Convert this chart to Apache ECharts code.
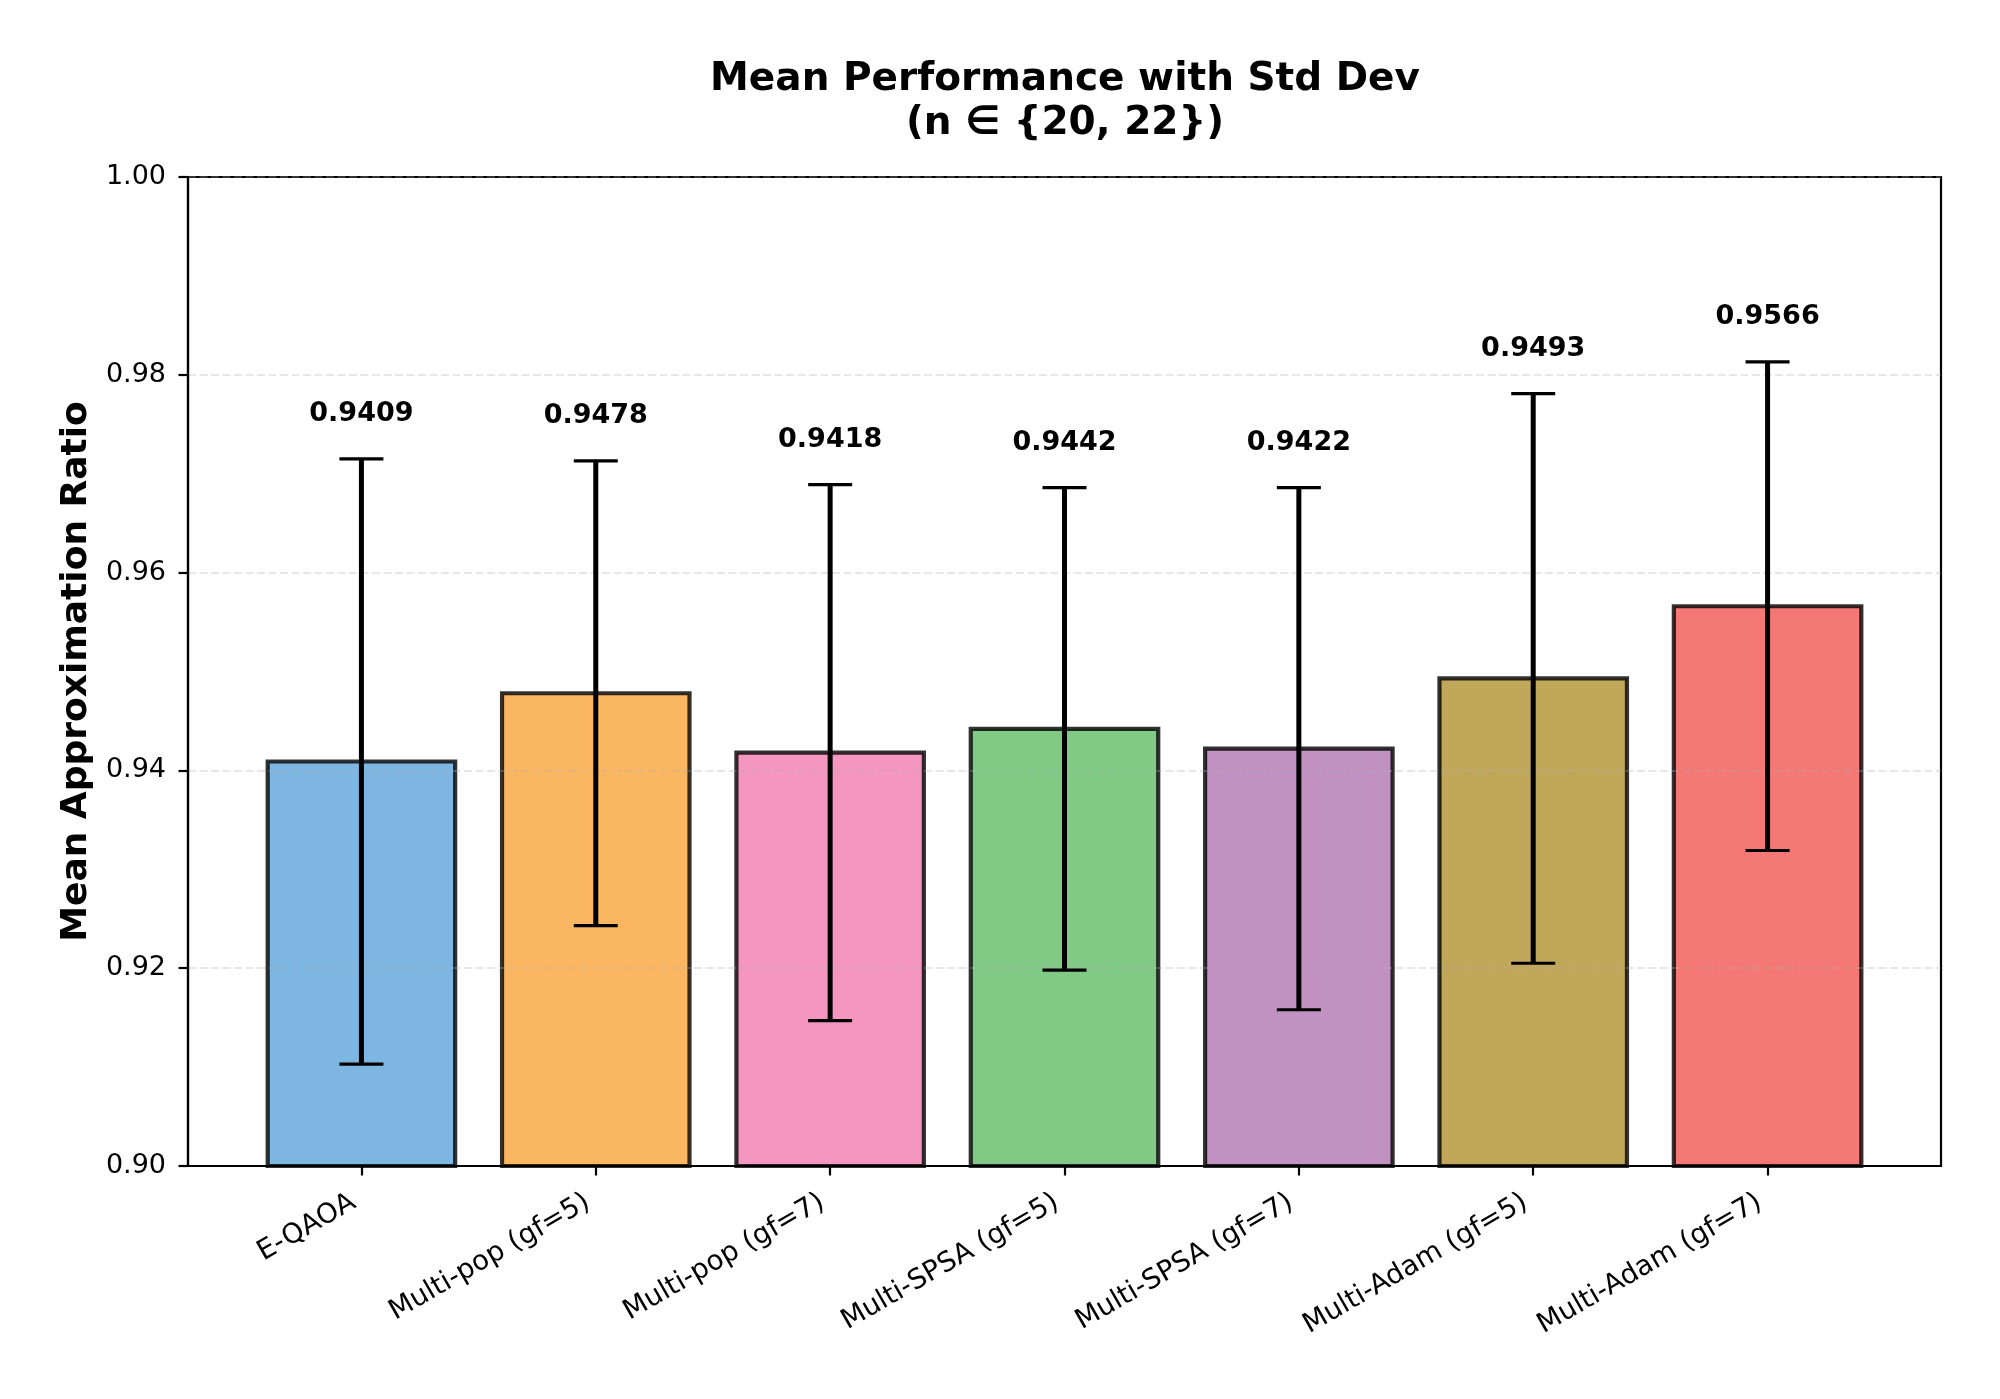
<!DOCTYPE html>
<html><head><meta charset="utf-8">
<script src="https://cdn.jsdelivr.net/npm/echarts@6/dist/echarts.min.js"></script>
<style>html,body{margin:0;padding:0;background:#fff}#c{width:2000px;height:1399px}</style>
</head><body><div id="c"></div>
<script>
// ---- data ----
const categories = ['E-QAOA', 'Multi-pop (gf=5)', 'Multi-pop (gf=7)', 'Multi-SPSA (gf=5)', 'Multi-SPSA (gf=7)', 'Multi-Adam (gf=5)', 'Multi-Adam (gf=7)'];
const means = [0.9409, 0.9478, 0.9418, 0.9442, 0.9422, 0.9493, 0.9566];
const stds = [0.0306, 0.0235, 0.0271, 0.0244, 0.0264, 0.0288, 0.0247];
const yTickLabels = ['0.90', '0.92', '0.94', '0.96', '0.98', '1.00'];
const barColors = ['rgba(93,165,218,0.8)', 'rgba(250,164,58,0.8)', 'rgba(241,124,176,0.8)', 'rgba(96,189,104,0.8)', 'rgba(178,118,178,0.8)', 'rgba(178,145,47,0.8)', 'rgba(241,88,84,0.8)'];

const FONT = 'DejaVu Sans';
const BAR_W = 0.8;
const LABEL_PAD = 0.0045;
const CAP = 22;

const idx = categories.map((_, i) => i);
const barData = categories.map((c, i) => [i, means[i], stds[i]]);

const chart = echarts.init(document.getElementById('c'), null, {renderer: 'canvas'});
chart.setOption({
  backgroundColor: '#fff',
  animation: false,
  title: {
    text: 'Mean Performance with Std Dev\n(n \u2208 {20, 22})',
    left: 1060, top: 53, textAlign: 'center',
    textStyle: {fontFamily: FONT, fontSize: 39, fontWeight: 'bold', color: '#000', lineHeight: 44}
  },
  grid: {left: 188, right: 59, top: 177, bottom: 233, show: true, borderColor: '#000', borderWidth: 2.2, backgroundColor: 'transparent'},
  xAxis: {
    type: 'value', min: -0.74, max: 6.74, z: 3,
    axisLine: {show: true, onZero: false, lineStyle: {color: '#000', width: 2.2}},
    axisTick: {show: true, customValues: idx, length: 9.5, lineStyle: {color: '#000', width: 2.2}},
    axisLabel: {show: true, customValues: idx, rotate: 30, margin: 30,
      formatter: v => '{a|' + (categories[Math.round(v)] || '') + '}',
      rich: {a: {fontFamily: FONT, fontSize: 27.5, color: '#000', padding: [0, 9, 0, 0]}},
      fontFamily: FONT, fontSize: 27.5, color: '#000'},
    splitLine: {show: false}
  },
  yAxis: {
    type: 'value', min: 0.9, max: 1.0, interval: 0.02, z: 3,
    name: 'Mean Approximation Ratio', nameLocation: 'middle', nameGap: 93,
    nameTextStyle: {fontFamily: FONT, fontSize: 36, fontWeight: 'bold', color: '#000'},
    axisLine: {show: true, onZero: false, lineStyle: {color: '#000', width: 2.2}},
    axisTick: {show: true, length: 9.5, lineStyle: {color: '#000', width: 2.2}},
    axisLabel: {margin: 22, fontFamily: FONT, fontSize: 27, color: '#000',
      formatter: v => yTickLabels[Math.round((v - 0.9) / 0.02)]},
    splitLine: {show: true, lineStyle: {color: 'rgba(176,176,176,0.3)', width: 2.2, type: [8, 3.5]}}
  },
  series: [
    {
      type: 'custom', z: 2, clip: false,
      encode: {x: 0, y: 1},
      data: barData,
      renderItem: function (params, api) {
        const i = api.value(0), m = api.value(1);
        const p0 = api.coord([i - BAR_W / 2, m]);
        const p1 = api.coord([i + BAR_W / 2, 0.9]);
        return {
          type: 'rect',
          shape: {x: p0[0], y: p0[1], width: p1[0] - p0[0], height: p1[1] - p0[1]},
          style: {fill: barColors[i], stroke: 'rgba(0,0,0,0.8)', lineWidth: 4.2}
        };
      }
    },
    {
      type: 'custom', z: 10, clip: false,
      encode: {x: 0, y: 1},
      data: barData,
      renderItem: function (params, api) {
        const i = api.value(0), m = api.value(1), s = api.value(2);
        const top = api.coord([i, m + s]);
        const bot = api.coord([i, m - s]);
        const lab = api.coord([i, m + s + LABEL_PAD]);
        const ls = {stroke: '#000', lineWidth: 5};
        return {
          type: 'group',
          children: [
            {type: 'line', shape: {x1: top[0], y1: top[1], x2: bot[0], y2: bot[1]}, style: ls},
            {type: 'line', shape: {x1: top[0] - CAP, y1: top[1], x2: top[0] + CAP, y2: top[1]}, style: {stroke: '#000', lineWidth: 3.2}},
            {type: 'line', shape: {x1: bot[0] - CAP, y1: bot[1], x2: bot[0] + CAP, y2: bot[1]}, style: {stroke: '#000', lineWidth: 3.2}},
            {type: 'text', x: lab[0], y: lab[1], style: {text: means[i].toFixed(4), fontFamily: FONT, fontSize: 27, fontWeight: 'bold', fill: '#000', textAlign: 'center', textVerticalAlign: 'middle'}}
          ]
        };
      }
    }
  ]
});
</script></body></html>
